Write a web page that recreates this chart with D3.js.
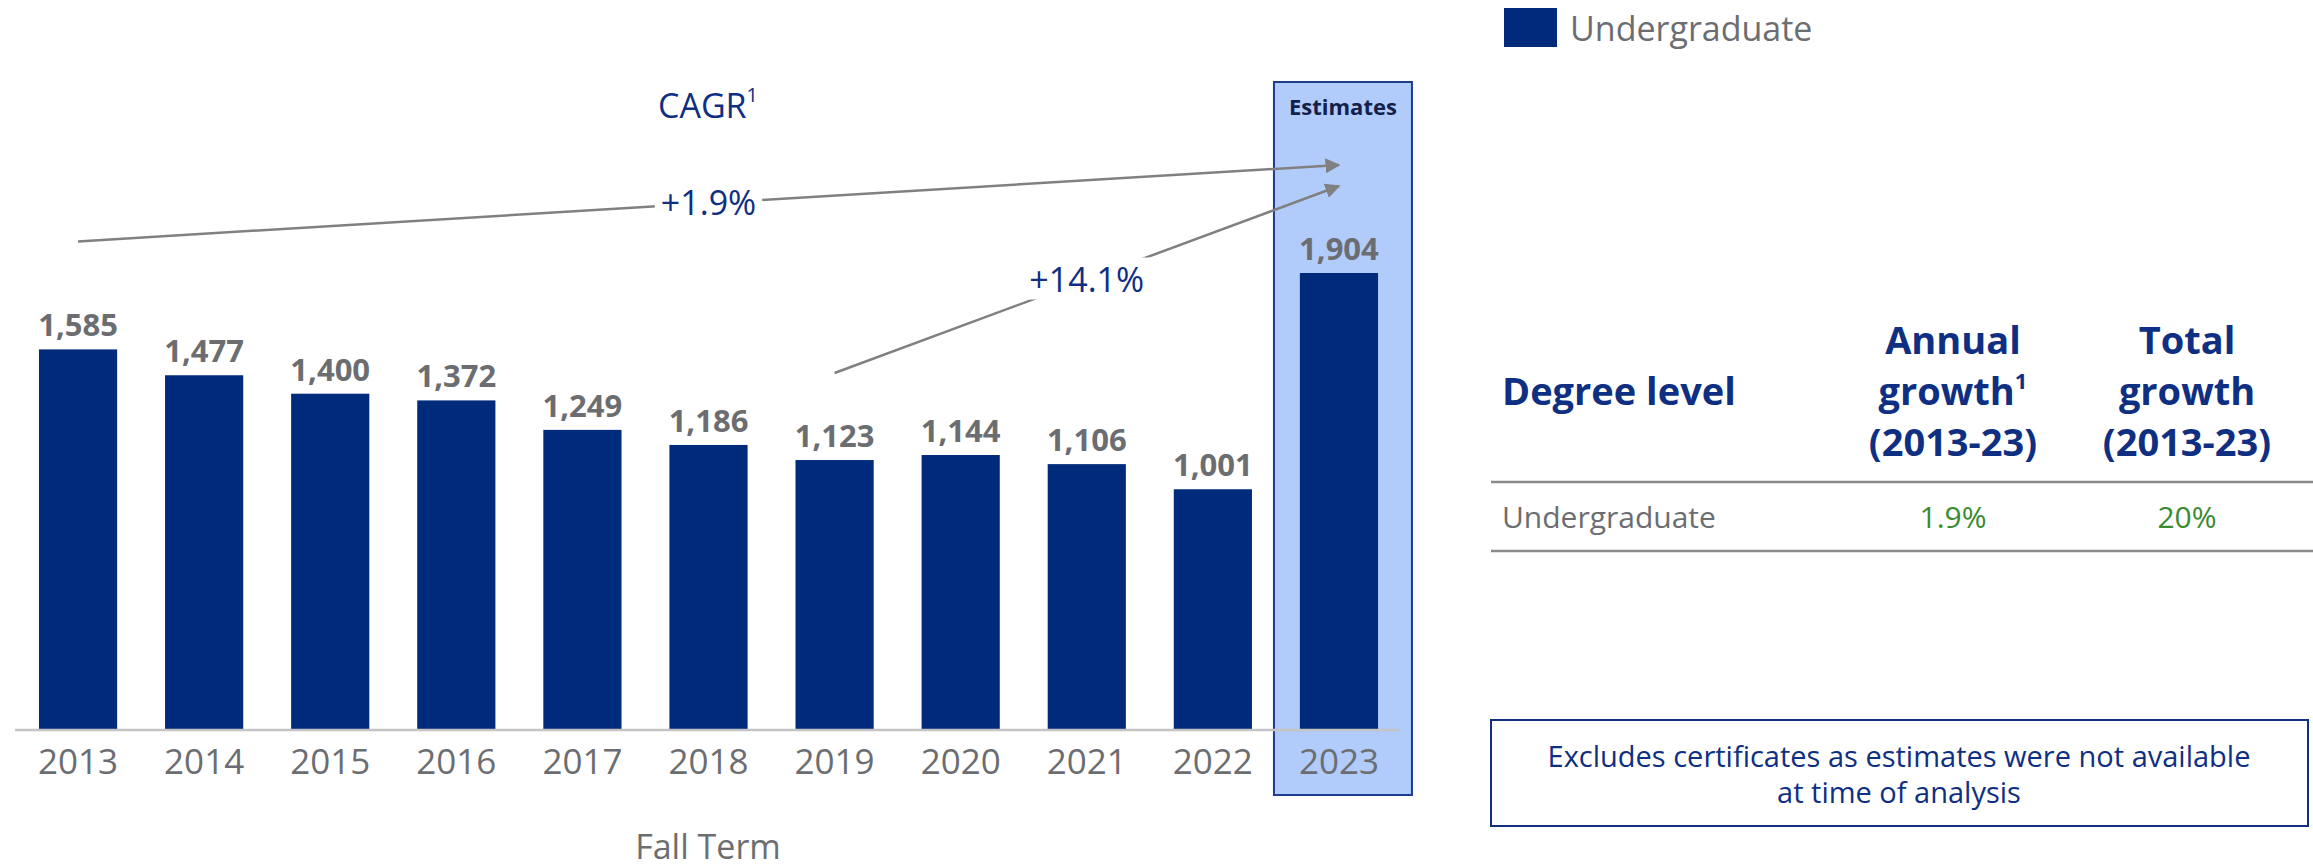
<!DOCTYPE html>
<html>
<head>
<meta charset="utf-8">
<script src="https://cdn.jsdelivr.net/npm/d3@7"></script>
<style>
  body { margin: 0; background: #fff; }
  text { font-family: "Open Sans", "Noto Sans", sans-serif; }
</style>
</head>
<body>
<div id="chart"></div>
<script>
const width = 2313;
const height = 868;

// data
const years = ['2013', '2014', '2015', '2016', '2017', '2018', '2019', '2020', '2021', '2022', '2023'];
const enrollment = [1585, 1477, 1400, 1372, 1249, 1186, 1123, 1144, 1106, 1001, 1904];
const estimateYears = ['2023'];

const cagrFrom = ['2013', '2019'];
const cagrTo = ['2023', '2023'];
const cagrLabels = ['+1.9%', '+14.1%'];

const tableHeaders = [['Degree level'], ['Annual', 'growth¹', '(2013-23)'], ['Total', 'growth', '(2013-23)']];
const tableRows = [['Undergraduate', '1.9%', '20%']];

const legendLabel = 'Undergraduate';
const note = ['Excludes certificates as estimates were not available', 'at time of analysis'];

const navy = '#002a7a';
const textNavy = '#0f2f82';
const grey = '#6b6d71';
const arrowGrey = '#808080';

const svg = d3.select('#chart')
  .append('svg')
  .attr('width', width)
  .attr('height', height);

const x = d3.scaleBand()
  .domain(years)
  .range([15, 1402])
  .paddingInner(0.38)
  .paddingOuter(0.19);

const y = d3.scaleLinear()
  .domain([0, 1904])
  .range([729, 273]);

// estimates highlight
estimateYears.forEach(function(yr) {
  const cx = x(yr) + x.bandwidth() / 2;
  svg.append('rect')
    .attr('x', cx - 65)
    .attr('y', 82)
    .attr('width', 138)
    .attr('height', 713)
    .style('fill', '#b1cbfb')
    .style('stroke', '#1d3c8f')
    .style('stroke-width', 2);
  svg.append('text')
    .attr('x', cx + 4)
    .attr('y', 115)
    .attr('text-anchor', 'middle')
    .style('font-size', '22px')
    .style('font-weight', 'bold')
    .style('fill', '#13204a')
    .text('Estimates');
});

// bars
svg.selectAll('.bar')
  .data(enrollment)
  .enter()
  .append('rect')
  .attr('class', 'bar')
  .attr('x', function(d, i) { return x(years[i]); })
  .attr('y', function(d) { return y(d); })
  .attr('width', x.bandwidth())
  .attr('height', function(d) { return y(0) - y(d); })
  .style('fill', navy);

// baseline
svg.append('line')
  .attr('x1', 15)
  .attr('x2', 1400)
  .attr('y1', y(0) + 1)
  .attr('y2', y(0) + 1)
  .style('stroke', '#c4c4c4')
  .style('stroke-width', 2.5);

// value labels
svg.selectAll('.val')
  .data(enrollment)
  .enter()
  .append('text')
  .attr('class', 'val')
  .attr('x', function(d, i) { return x(years[i]) + x.bandwidth() / 2; })
  .attr('y', function(d) { return y(d) - 13; })
  .attr('text-anchor', 'middle')
  .style('font-size', '31px')
  .style('font-weight', 'bold')
  .style('fill', grey)
  .text(d3.format(','));

// year labels
const xAxis = svg.append('g')
  .attr('transform', 'translate(0,' + y(0) + ')')
  .call(d3.axisBottom(x).tickSize(0).tickPadding(20));
xAxis.select('.domain').remove();
xAxis.selectAll('text')
  .attr('dy', '0.71em')
  .style('font-family', '"Open Sans", sans-serif')
  .style('font-size', '35px')
  .style('fill', grey);

svg.append('text')
  .attr('x', 708)
  .attr('y', 859)
  .attr('text-anchor', 'middle')
  .style('font-size', '34px')
  .style('fill', grey)
  .text('Fall Term');

// CAGR title
const cagrTitle = svg.append('text')
  .attr('x', 708)
  .attr('y', 118)
  .attr('text-anchor', 'middle')
  .style('font-size', '34px')
  .style('fill', textNavy);
cagrTitle.append('tspan').text('CAGR');
cagrTitle.append('tspan').attr('dy', '-0.8em').style('font-size', '20px').text('1');

// CAGR arrows
svg.append('defs').append('marker')
  .attr('id', 'arrow')
  .attr('viewBox', '0 0 10 10')
  .attr('refX', 9)
  .attr('refY', 5)
  .attr('markerWidth', 6)
  .attr('markerHeight', 6)
  .attr('markerUnits', 'strokeWidth')
  .attr('orient', 'auto')
  .append('path')
  .attr('d', 'M0,0 L10,5 L0,10 Z')
  .style('fill', arrowGrey);

const lifts = [108, 87];
const lineFunction = d3.line()
  .x(function(d) { return d.x; })
  .y(function(d) { return d.y; });

cagrLabels.forEach(function(label, i) {
  const i0 = years.indexOf(cagrFrom[i]);
  const i1 = years.indexOf(cagrTo[i]);
  const p0 = { x: x(cagrFrom[i]) + x.bandwidth() / 2, y: y(enrollment[i0]) - lifts[i] };
  const p1 = { x: x(cagrTo[i]) + x.bandwidth() / 2, y: y(enrollment[i1]) - lifts[i] };
  svg.append('path')
    .attr('d', lineFunction([p0, p1]))
    .style('stroke', arrowGrey)
    .style('stroke-width', 2.5)
    .style('fill', 'none')
    .attr('marker-end', 'url(#arrow)');
  const mx = (p0.x + p1.x) / 2;
  const my = (p0.y + p1.y) / 2;
  const g = svg.append('g');
  const t = g.append('text')
    .attr('x', mx)
    .attr('y', my + 12)
    .attr('text-anchor', 'middle')
    .style('font-size', '34px')
    .style('fill', textNavy)
    .text(label);
  const bb = t.node().getBBox();
  g.insert('rect', 'text')
    .attr('x', bb.x - 6)
    .attr('y', bb.y + 2)
    .attr('width', bb.width + 12)
    .attr('height', bb.height - 4)
    .style('fill', '#fff');
});

// legend
svg.append('rect')
  .attr('x', 1504)
  .attr('y', 8)
  .attr('width', 53)
  .attr('height', 39)
  .style('fill', navy);
svg.append('text')
  .attr('x', 1570)
  .attr('y', 41)
  .style('font-size', '34px')
  .style('fill', grey)
  .text(legendLabel);

// table
const colX = [1502, 1953, 2187];
const headBase = [354, 405, 456];

tableHeaders.forEach(function(lines, c) {
  const txt = svg.append('text')
    .attr('x', colX[c])
    .attr('text-anchor', c === 0 ? 'start' : 'middle')
    .style('font-size', '38px')
    .style('font-weight', 'bold')
    .style('fill', textNavy);
  const start = c === 0 ? 1 : 0;
  lines.forEach(function(line, j) {
    const sup = line.endsWith('¹');
    txt.append('tspan')
      .attr('x', colX[c])
      .attr('y', headBase[start + j])
      .text(sup ? line.slice(0, -1) : line);
    if (sup) {
      txt.append('tspan')
        .attr('dy', '-0.75em')
        .style('font-size', '22px')
        .text('1');
    }
  });
});

svg.append('line')
  .attr('x1', 1491).attr('x2', width)
  .attr('y1', 482).attr('y2', 482)
  .style('stroke', '#8a8a8a')
  .style('stroke-width', 2.5);

tableRows.forEach(function(row, r) {
  row.forEach(function(cell, c) {
    svg.append('text')
      .attr('x', colX[c])
      .attr('y', 528 + r * 69)
      .attr('text-anchor', c === 0 ? 'start' : 'middle')
      .style('font-size', '30px')
      .style('fill', c === 0 ? grey : '#3a8a30')
      .text(cell);
  });
  svg.append('line')
    .attr('x1', 1491).attr('x2', width)
    .attr('y1', 551 + r * 69).attr('y2', 551 + r * 69)
    .style('stroke', '#8a8a8a')
    .style('stroke-width', 2.5);
});

// note box
svg.append('rect')
  .attr('x', 1491)
  .attr('y', 720)
  .attr('width', 817)
  .attr('height', 106)
  .style('fill', 'none')
  .style('stroke', '#12307f')
  .style('stroke-width', 2);

svg.selectAll('.note')
  .data(note)
  .enter()
  .append('text')
  .attr('class', 'note')
  .attr('x', 1899)
  .attr('y', function(d, i) { return 767 + i * 36; })
  .attr('text-anchor', 'middle')
  .style('font-size', '29px')
  .style('fill', textNavy)
  .text(function(d) { return d; });
</script>
</body>
</html>
